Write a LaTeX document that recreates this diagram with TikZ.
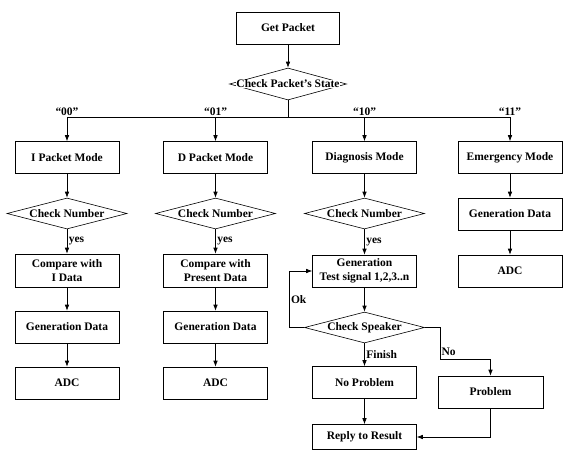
\documentclass[tikz,border=0pt]{standalone}
\usepackage{fontspec}
\setmainfont{Liberation Serif}
\usetikzlibrary{arrows.meta, shapes.geometric}

\tikzset{
	box/.style = {draw, rectangle, minimum width = 104pt, minimum height = 32pt, inner sep = 1pt, align = center},
	dec/.style = {draw, diamond, minimum width = 120pt, minimum height = 31pt, inner sep = 0pt},
	arr/.style = {-{Latex[length = 6pt, width = 4.5pt]}},
	lbl/.style = {inner sep = 1.5pt}
}

\begin{document}
\begin{tikzpicture}[x = 1pt, y = -1pt, line width = 0.6pt, font = \bfseries\fontsize{11.5}{13.5}\selectfont]
		\def\ca{67};
		\def\cb{215.5};
		\def\cc{364.5};
		\def\cd{510};

		\useasboundingbox (0,0) rectangle (563,450);

		% top of the chart
		\node (get) [box, minimum width = 103pt] at (288,28) {Get Packet};
		\node (state) [dec, minimum width = 117pt, minimum height = 32pt,
			label = {[fill = white, inner sep = 0.3pt]center:Check Packet's State}] at (288,84) {};
		\coordinate (bus) at (288,117);

		\draw[arr] (get) -- (state);
		\draw (state) -- (bus);

		% the four modes
		\node (imode) [box] at (\ca,157.5) {I Packet Mode};
		\node (dmode) [box] at (\cb,157.5) {D Packet Mode};
		\node (diag) [box] at (\cc,157.5) {Diagnosis Mode};
		\node (emer) [box] at (\cd,157.5) {Emergency Mode};

		\foreach \m/\t in {imode/00, dmode/01, diag/10, emer/11}
			\draw[arr] (bus) -| (\m) node [pos = 0.5, above, lbl] {``\t''};

		% I and D packet columns
		\node (inum) [dec, label = center:Check Number] at (\ca,213.5) {};
		\node (icmp) [box, minimum height = 33pt] at (\ca,270.5) {Compare with\\I Data};
		\node (igen) [box] at (\ca,327) {Generation Data};
		\node (iadc) [box] at (\ca,383) {ADC};

		\node (dnum) [dec, label = center:Check Number] at (\cb,213.5) {};
		\node (dcmp) [box, minimum height = 33pt] at (\cb,270.5) {Compare with\\Present Data};
		\node (dgen) [box] at (\cb,327) {Generation Data};
		\node (dadc) [box] at (\cb,383) {ADC};

		% diagnosis column
		\node (cnum) [dec, label = center:Check Number] at (\cc,213.5) {};
		\node (test) [box] at (\cc,271) {Generation\\Test signal 1,2,3..n};
		\node (spk) [dec, label = center:Check Speaker] at (\cc,327.5) {};
		\node (noprob) [box] at (\cc,382.5) {No Problem};
		\node (reply) [box, minimum height = 25pt] at (\cc,437) {Reply to Result};
		\node (prob) [box, minimum width = 105pt] at (490.5,392) {Problem};

		% emergency column
		\node (egen) [box] at (\cd,214) {Generation Data};
		\node (eadc) [box] at (\cd,271) {ADC};

		\foreach \p/\q in {imode/inum, icmp/igen, igen/iadc, dmode/dnum, dcmp/dgen, dgen/dadc,
				diag/cnum, test/spk, noprob/reply, emer/egen, egen/eadc}
			\draw[arr] (\p) -- (\q);

		\foreach \p/\q in {inum/icmp, dnum/dcmp, cnum/test}
			\draw[arr] (\p) -- (\q) node [midway, right, lbl] {yes};

		\draw[arr] (spk) -- (noprob) node [midway, right, lbl] {Finish};
		\draw[arr] (spk.west) -- ++(-15,0) |- (test.west) node [pos = 0.25, right, lbl] {Ok};
		\draw[arr] (spk.east) -- ++(15,0) -- ++(0,32) node [pos = 0.75, right, lbl] {No} -| (prob);
		\draw[arr] (prob) |- (reply);
	\end{tikzpicture}
\end{document}
